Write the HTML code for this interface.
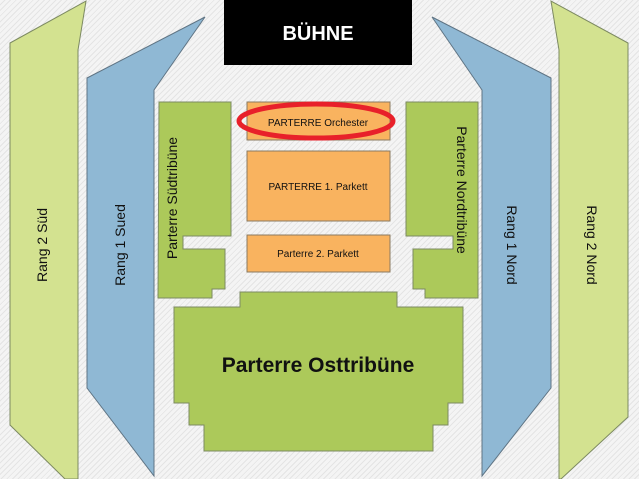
<!DOCTYPE html>
<html><head><meta charset="utf-8"><style>
html,body{margin:0;padding:0;width:639px;height:479px;overflow:hidden;
background:repeating-linear-gradient(135deg,#f4f4f4 0 3px,#e4e4e4 3px 4px);}
svg{display:block}
text{font-family:"Liberation Sans",sans-serif;fill:#111}
</style></head><body>
<svg width="639" height="479" viewBox="0 0 639 479">
<g stroke="#7d8a62" stroke-width="1">
<polygon points="10,43 86,1 78,50 78,479 65,479 10,425" fill="#d3e290"/>
<polygon points="628,43 551,1 559,50 559,479 561,479 628,417" fill="#d3e290"/>
<polygon points="87,78 205,17 154,90 154,476 87,388" fill="#8fb8d4" stroke="#5f7484"/>
<polygon points="551,78 432,17 482,90 482,476 551,388" fill="#8fb8d4" stroke="#5f7484"/>
<polygon points="159,102 231,102 231,236 183,236 183,249 225,249 225,289 212,289 212,298 158,298" fill="#acc95a"/>
<polygon points="478,102 406,102 406,236 453,236 453,249 413,249 413,289 425,289 425,298 478,298" fill="#acc95a"/>
<polygon points="240,292 397,292 397,307 463,307 463,403 448,403 448,425 433,425 433,451 204,451 204,425 189,425 189,403 174,403 174,307 240,307" fill="#acc95a"/>
<rect x="247" y="102" width="143" height="38" fill="#f9b35f" stroke="#8a7a60"/>
<rect x="247" y="151" width="143" height="70" fill="#f9b35f" stroke="#8a7a60"/>
<rect x="247" y="235" width="143" height="37" fill="#f9b35f" stroke="#8a7a60"/>
</g>
<rect x="224" y="0" width="188" height="65" fill="#000"/>
<text x="318" y="40" text-anchor="middle" font-size="20" font-weight="bold" style="fill:#fff">BÜHNE</text>
<ellipse cx="316" cy="121" rx="77" ry="17" fill="none" stroke="#e8202a" stroke-width="5"/>
<text x="318" y="126" text-anchor="middle" font-size="10">PARTERRE Orchester</text>
<text x="318" y="190" text-anchor="middle" font-size="10">PARTERRE 1. Parkett</text>
<text x="318" y="257" text-anchor="middle" font-size="10">Parterre 2. Parkett</text>
<text x="318" y="372" text-anchor="middle" font-size="21" font-weight="bold">Parterre Osttribüne</text>
<text transform="translate(47,245) rotate(-90)" text-anchor="middle" font-size="14">Rang 2 Süd</text>
<text transform="translate(125,245) rotate(-90)" text-anchor="middle" font-size="14">Rang 1 Sued</text>
<text transform="translate(177,198) rotate(-90)" text-anchor="middle" font-size="14">Parterre Südtribüne</text>
<text transform="translate(457,190) rotate(90)" text-anchor="middle" font-size="14">Parterre Nordtribüne</text>
<text transform="translate(507,245) rotate(90)" text-anchor="middle" font-size="14">Rang 1 Nord</text>
<text transform="translate(587,245) rotate(90)" text-anchor="middle" font-size="14">Rang 2 Nord</text>
</svg>
</body></html>
